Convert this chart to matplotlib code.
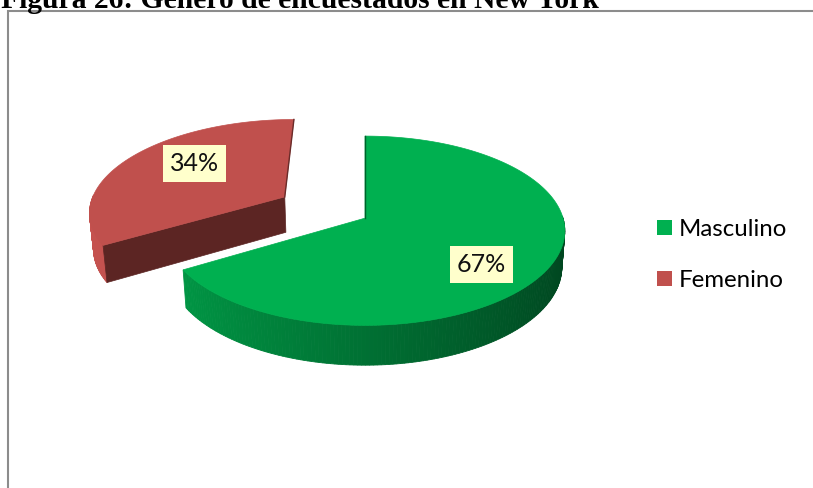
import numpy as np
import matplotlib.pyplot as plt
from matplotlib.patches import Polygon, Patch, Rectangle
from matplotlib.colors import to_rgb

# Datos
categorias = ["Masculino", "Femenino"]
porcentajes = [67, 34]
colores = ["#00B050", "#C0504D"]
colores_corte = ["#005A28", "#5C2523"]
separacion = [0.0, 0.48]   # la porción femenina va separada

# Parámetros de la vista 3D
elev = np.radians(28)
focal = 6.64
grosor = 0.21
escala = 198.0          # px por unidad de radio
centro = (0.449, 0.553)  # centro del pastel en fracción de figura

W, H = 813, 488


def proyectar(x, y, z):
    d = y * np.cos(elev) - z * np.sin(elev)
    s = focal / (focal + d)
    return x * s, (y * np.sin(elev) + z * np.cos(elev)) * s


def sombra(color, f):
    return tuple(np.clip(np.array(to_rgb(color)) * f, 0, 1))


fig = plt.figure(figsize=(W / 100, H / 100), dpi=100)
ax = fig.add_axes([0, 0, 1, 1])
ax.set_xlim(-centro[0] * W / escala, (1 - centro[0]) * W / escala)
ax.set_ylim(-centro[1] * H / escala, (1 - centro[1]) * H / escala)
ax.axis("off")

# ángulos: desde las 12 en sentido horario
total = sum(porcentajes)
limites = 90 - 360 * np.cumsum([0] + porcentajes) / total
porciones = []
for i in range(len(porcentajes)):
    t1, t0 = np.radians(limites[i]), np.radians(limites[i + 1])
    porciones.append((t0, t1))


def dibujar(i):
    t0, t1 = porciones[i]
    mid = (t0 + t1) / 2
    ox, oy = separacion[i] * np.cos(mid), separacion[i] * np.sin(mid)
    color = colores[i]
    t = np.linspace(t0, t1, 240)

    # pared exterior, sombreada según el ángulo
    for a, b in zip(t[:-1], t[1:]):
        m = (a + b) / 2
        if np.sin(m) > 0.02:
            continue
        pts = [proyectar(ox + np.cos(a), oy + np.sin(a), 0),
               proyectar(ox + np.cos(b), oy + np.sin(b), 0),
               proyectar(ox + np.cos(b), oy + np.sin(b), -grosor),
               proyectar(ox + np.cos(a), oy + np.sin(a), -grosor)]
        f = 0.64 - 0.24 * np.cos(m) if i == 0 else 0.97 - 0.06 * np.cos(m)
        c = sombra(color, f)
        ax.add_patch(Polygon(pts, closed=True, fc=c, ec=c, lw=0.6))

    # caras de corte visibles
    for ang, normal in ((t0, t0 - np.pi / 2), (t1, t1 + np.pi / 2)):
        if np.sin(normal) > -0.05:
            continue
        pts = [proyectar(ox, oy, 0),
               proyectar(ox + np.cos(ang), oy + np.sin(ang), 0),
               proyectar(ox + np.cos(ang), oy + np.sin(ang), -grosor),
               proyectar(ox, oy, -grosor)]
        ax.add_patch(Polygon(pts, closed=True, fc=colores_corte[i],
                             ec=colores_corte[i], lw=0.5))

    # cara superior
    arco = [proyectar(ox + np.cos(a), oy + np.sin(a), 0) for a in t]
    tapa = [proyectar(ox, oy, 0)] + arco
    ax.add_patch(Polygon(tapa, closed=True, fc=color, ec=color, lw=0.5))

    # borde recto de las 12 en punto
    x0, y0 = proyectar(ox, oy, 0)
    x1, y1 = proyectar(ox, oy + 1, 0)
    ax.plot([x0, x1], [y0, y1], color=sombra(color, 0.55), lw=1.0)

    # etiqueta
    r = 0.65 if i == 0 else 0.57
    lx, ly = proyectar(ox + r * np.cos(mid), oy + r * np.sin(mid),
                       -grosor * 0.4 if i == 0 else grosor * 0.28)
    ax.text(lx, ly, f"{porcentajes[i]}%", ha="center", va="center",
            fontsize=18, family="Lato", color="#111111",
            bbox=dict(boxstyle="square,pad=0.28", fc="#FFFFCC", ec="none"))


# primero la porción de atrás
dibujar(1)
dibujar(0)

# leyenda
handles = [Patch(fc=c, ec="none", label=l) for c, l in zip(colores, categorias)]
fig.legend(handles=handles, loc="center left",
           bbox_to_anchor=(635 / W, 1 - 255 / H), frameon=False,
           prop={"family": "Lato", "size": 17.3}, handlelength=0.62,
           handleheight=0.62, handletextpad=0.3, labelspacing=1.25)

# marco del gráfico
fig.add_artist(Rectangle((8 / W, -0.1), 1.0, 1.1 - 11 / H,
                         transform=fig.transFigure, fill=False,
                         ec="#8C8C8C", lw=1.5))

# título
fig.text(1 / W, 1 - 8 / H, "Figura 26: Género de encuestados en New York",
         family="Liberation Serif", weight="bold", fontsize=21.3,
         va="baseline", ha="left")

fig.savefig("out.png", dpi=100)
